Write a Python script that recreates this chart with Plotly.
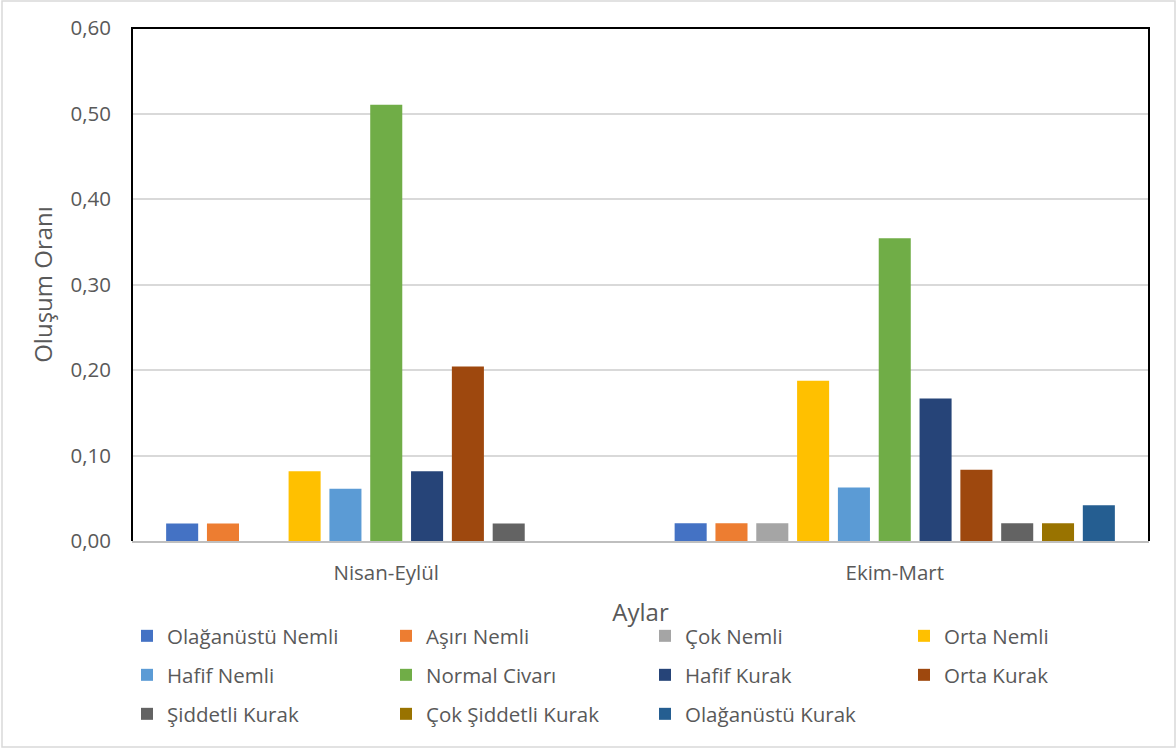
import plotly.graph_objects as go

# Seasonal periods on the x axis
categories = ["Nisan-Eylül", "Ekim-Mart"]

# Drought / wetness classes
classes = [
    "Olağanüstü Nemli", "Aşırı Nemli", "Çok Nemli", "Orta Nemli",
    "Hafif Nemli", "Normal Civarı", "Hafif Kurak", "Orta Kurak",
    "Şiddetli Kurak", "Çok Şiddetli Kurak", "Olağanüstü Kurak",
]

# Occurrence ratios per class
nisan_eylul = [0.0204, 0.0204, 0.0, 0.0816, 0.0612, 0.5102, 0.0816, 0.2041, 0.0204, 0.0, 0.0]
ekim_mart = [0.0208, 0.0208, 0.0208, 0.1875, 0.0625, 0.3542, 0.1667, 0.0833, 0.0208, 0.0208, 0.0417]

colors = [
    "#4472C4", "#ED7D31", "#A5A5A5", "#FFC000", "#5B9BD5", "#70AD47",
    "#264478", "#9E480E", "#636363", "#997300", "#255E91",
]

y_ticks = [0.0, 0.1, 0.2, 0.3, 0.4, 0.5, 0.6]

FONT = "Open Sans"
TEXT = "#595959"

W, H = 1176, 749
ML, MR, MT, MB = 132, 27, 28, 208
PW, PH = W - ML - MR, H - MT - MB

# Legend laid out as three rows of four columns
PER_ROW = 4
ROW_CENTERS_PX = [636, 675, 714]   # vertical centre of each legend row
LEGEND_LEFT_PX = 127

fig = go.Figure()
for i, (name, a, b, c) in enumerate(zip(classes, nisan_eylul, ekim_mart, colors)):
    row = i // PER_ROW
    fig.add_trace(go.Bar(
        name=name, x=categories, y=[a, b],
        marker=dict(color=c, line=dict(width=0)),
        legend="legend" if row == 0 else f"legend{row + 1}",
    ))

legend_common = dict(
    orientation="h",
    x=(LEGEND_LEFT_PX - ML) / PW, xanchor="left", yanchor="middle",
    entrywidth=214, entrywidthmode="pixels",
    font=dict(family=FONT, size=20.5, color=TEXT),
    bgcolor="rgba(0,0,0,0)", borderwidth=0,
)
legends = {}
for r, cy in enumerate(ROW_CENTERS_PX):
    key = "legend" if r == 0 else f"legend{r + 1}"
    legends[key] = dict(legend_common, y=-(cy - (MT + PH)) / PH)

fig.update_layout(
    width=W, height=H,
    margin=dict(l=ML, r=MR, t=MT, b=MB, autoexpand=False),
    paper_bgcolor="white", plot_bgcolor="white",
    separators=",.",
    barmode="group", bargap=0.117, bargroupgap=0.215,
    font=dict(family=FONT, size=20, color=TEXT),
    showlegend=True,
    **legends,
)

fig.update_xaxes(
    showline=True, linecolor="#BFBFBF", linewidth=2,
    showgrid=False, ticks="", ticklabelstandoff=12,
    tickfont=dict(size=20.5),
    title=dict(text="Aylar", standoff=20, font=dict(size=24)),
)
fig.update_yaxes(
    range=[0, 0.6], tickvals=y_ticks, tickformat=".2f",
    showgrid=True, gridcolor="#D9D9D9", gridwidth=2,
    zeroline=False, showline=False, ticks="", ticklabelstandoff=20,
    tickfont=dict(size=20.5),
    title=dict(text="Oluşum Oranı", standoff=11, font=dict(size=24)),
)

# Black frame on the left, top and right of the plot area
fig.add_shape(
    type="path", xref="paper", yref="paper",
    path="M 0,0 L 0,1 L 1,1 L 1,0",
    line=dict(color="black", width=2), layer="above",
)

# Light grey chart border
fig.add_shape(
    type="rect", xref="paper", yref="paper",
    x0=(2 - ML) / PW, x1=(W - 1 - ML) / PW,
    y0=-(H - 2 - MT - PH) / PH, y1=1 + (MT - 1) / PH,
    line=dict(color="#D9D9D9", width=1.5), layer="below",
)

fig.write_html("out.html")
